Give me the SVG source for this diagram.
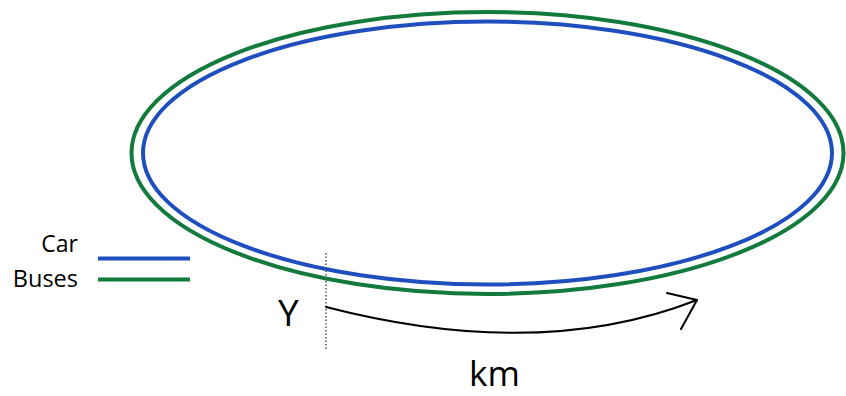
<svg xmlns="http://www.w3.org/2000/svg" width="846" height="396" viewBox="0 0 846 396">
<style>
.lbl{font-family:"Open Sans","Liberation Sans",sans-serif;fill:#000}
.blue{stroke:#1f4fbf;stroke-width:4;fill:none}
.green{stroke:#127a3c;stroke-width:4;fill:none}
.blk{stroke:#000;stroke-width:2;fill:none;stroke-linecap:round;stroke-linejoin:round}
</style>
<rect width="846" height="396" fill="#fff"/>
<g id="buses-track"><ellipse class="green" cx="487.5" cy="153" rx="356" ry="141"/></g>
<g id="car-track"><ellipse class="blue" cx="487.5" cy="153" rx="344.5" ry="131.5"/></g>
<g id="legend">
<text class="lbl" x="78" y="252" font-size="23" text-anchor="end">Car</text>
<line class="blue" x1="98" y1="258.5" x2="190" y2="258.5"/>
<text class="lbl" x="78" y="287" font-size="23.5" text-anchor="end">Buses</text>
<line class="green" x1="98" y1="279.5" x2="190" y2="279.5"/>
</g>
<g id="start-point">
<line x1="326" y1="253" x2="326" y2="350" stroke="#555" stroke-width="1.5" stroke-dasharray="1.5,2"/>
<text class="lbl" x="278" y="326" font-size="37">Y</text>
</g>
<g id="connectors">
<path class="blk" d="M326,307 Q539,362 697,300"/>
<path class="blk" d="M667,293 L697,300 L681,329"/>
</g>
<g id="distance-label"><text class="lbl" x="469" y="386" font-size="35">km</text></g>
</svg>
